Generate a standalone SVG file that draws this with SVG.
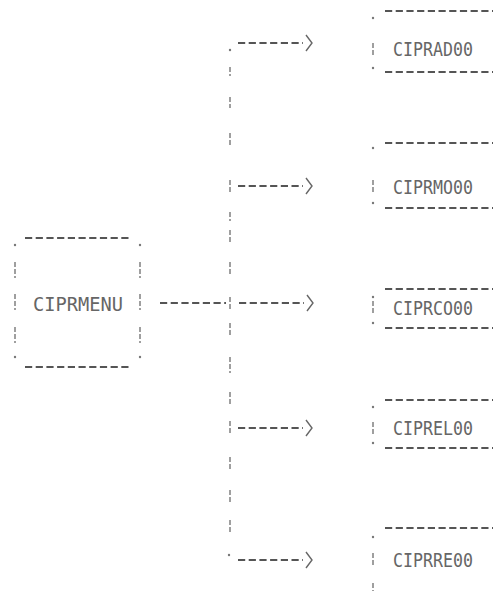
<svg xmlns="http://www.w3.org/2000/svg" width="493" height="591" viewBox="0 0 493 591">
<style>
.d{stroke:#555;stroke-width:2;stroke-dasharray:7.2 3.5;fill:none}
.b{stroke:#777;stroke-width:1.4;stroke-dasharray:5 2;fill:none}
.p{fill:#777}
.t{font-family:"DejaVu Sans Mono","Liberation Mono",monospace;font-size:19px;fill:#666}
.ah{stroke:#666;stroke-width:1.4;fill:none}
</style>
<rect width="493" height="591" fill="#fff"/>
<g id="CIPRMENU">
<line class="d" x1="25" y1="238" x2="132" y2="238"/>
<line class="d" x1="25" y1="367" x2="132" y2="367"/>
<circle class="p" cx="15" cy="245" r="1.2"/><circle class="p" cx="140" cy="245" r="1.2"/>
<circle class="p" cx="15" cy="357" r="1.2"/><circle class="p" cx="140" cy="357" r="1.2"/>
<line class="b" x1="15" y1="262" x2="15" y2="278"/><line class="b" x1="15" y1="294" x2="15" y2="310"/><line class="b" x1="15" y1="327" x2="15" y2="343"/>
<line class="b" x1="140" y1="262" x2="140" y2="278"/><line class="b" x1="140" y1="294" x2="140" y2="310"/><line class="b" x1="140" y1="327" x2="140" y2="343"/>
<text class="t" x="33" y="311" textLength="90" lengthAdjust="spacingAndGlyphs">CIPRMENU</text>
</g>
<g id="CIPRAD00">
<line class="d" x1="385" y1="11" x2="495" y2="11"/>
<line class="d" x1="385" y1="72" x2="495" y2="72"/>
<circle class="p" cx="373" cy="18" r="1.2"/><circle class="p" cx="373" cy="68" r="1.2"/>
<line class="b" x1="373" y1="43" x2="373" y2="57"/>
<text class="t" x="393" y="56" textLength="80" lengthAdjust="spacingAndGlyphs">CIPRAD00</text>
</g>
<g id="CIPRMO00">
<line class="d" x1="385" y1="143" x2="495" y2="143"/>
<line class="d" x1="385" y1="208" x2="495" y2="208"/>
<circle class="p" cx="373" cy="148" r="1.2"/><circle class="p" cx="373" cy="203" r="1.2"/>
<line class="b" x1="373" y1="180" x2="373" y2="194"/>
<text class="t" x="393" y="194" textLength="80" lengthAdjust="spacingAndGlyphs">CIPRMO00</text>
</g>
<g id="CIPRCO00">
<line class="d" x1="385" y1="289" x2="495" y2="289"/>
<line class="d" x1="385" y1="328" x2="495" y2="328"/>
<circle class="p" cx="373" cy="297" r="1.2"/><circle class="p" cx="373" cy="323" r="1.2"/>
<line class="b" x1="373" y1="301" x2="373" y2="315"/>
<text class="t" x="393" y="315" textLength="80" lengthAdjust="spacingAndGlyphs">CIPRCO00</text>
</g>
<g id="CIPREL00">
<line class="d" x1="385" y1="400" x2="495" y2="400"/>
<line class="d" x1="385" y1="448" x2="495" y2="448"/>
<circle class="p" cx="373" cy="407" r="1.2"/><circle class="p" cx="373" cy="443" r="1.2"/>
<line class="b" x1="373" y1="422" x2="373" y2="436"/>
<text class="t" x="393" y="435" textLength="80" lengthAdjust="spacingAndGlyphs">CIPREL00</text>
</g>
<g id="CIPRRE00">
<line class="d" x1="385" y1="528" x2="495" y2="528"/>
<circle class="p" cx="373" cy="537" r="1.2"/>
<line class="b" x1="373" y1="553" x2="373" y2="567"/>
<line class="b" x1="373" y1="583" x2="373" y2="591"/>
<text class="t" x="393" y="567" textLength="80" lengthAdjust="spacingAndGlyphs">CIPRRE00</text>
</g>
<g id="connectors">
<line class="b" x1="230" y1="67" x2="230" y2="76"/>
<line class="b" x1="230" y1="97" x2="230" y2="108"/>
<line class="b" x1="230" y1="133" x2="230" y2="145"/>
<line class="b" x1="230" y1="180" x2="230" y2="193"/>
<line class="b" x1="230" y1="212" x2="230" y2="221"/>
<line class="b" x1="230" y1="230" x2="230" y2="243"/>
<line class="b" x1="230" y1="262" x2="230" y2="275"/>
<line class="b" x1="230" y1="297" x2="230" y2="311"/>
<line class="b" x1="230" y1="323" x2="230" y2="337"/>
<line class="b" x1="230" y1="357" x2="230" y2="373"/>
<line class="b" x1="230" y1="392" x2="230" y2="404"/>
<line class="b" x1="230" y1="421" x2="230" y2="435"/>
<line class="b" x1="230" y1="457" x2="230" y2="470"/>
<line class="b" x1="230" y1="490" x2="230" y2="503"/>
<line class="b" x1="230" y1="520" x2="230" y2="533"/>
<circle class="p" cx="230" cy="50" r="1.2"/>
<circle class="p" cx="229" cy="555" r="1.2"/>
<line class="d" x1="238" y1="43" x2="303" y2="43"/>
<polyline class="ah" points="306,35 312,43 306,51"/>
<line class="d" x1="238" y1="186" x2="303" y2="186"/>
<polyline class="ah" points="306,178 312,186 306,194"/>
<line class="d" x1="160" y1="303" x2="226" y2="303"/>
<line class="d" x1="239" y1="303" x2="304" y2="303"/>
<polyline class="ah" points="307,295 313,303 307,311"/>
<line class="d" x1="238" y1="428" x2="303" y2="428"/>
<polyline class="ah" points="306,420 312,428 306,436"/>
<line class="d" x1="238" y1="560" x2="303" y2="560"/>
<polyline class="ah" points="306,552 312,560 306,568"/>
</g>
</svg>
